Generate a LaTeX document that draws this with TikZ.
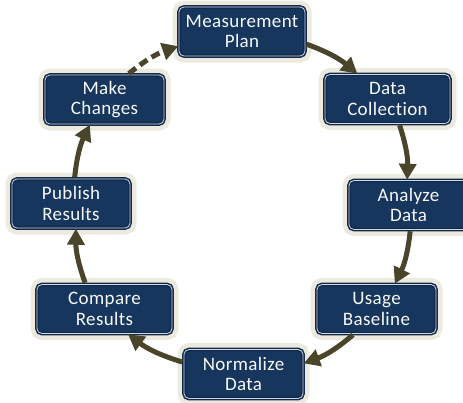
\documentclass[tikz,border=0pt]{standalone}
\usepackage{fontspec}
\setmainfont{Carlito}[Ligatures=NoCommon, LetterSpace=2]
\usetikzlibrary{arrows.meta}
\usepackage{xcolor}
\definecolor{boxnavy}{RGB}{23,54,93}
\definecolor{boxhalo}{RGB}{236,234,222}
\definecolor{boxline}{RGB}{205,212,226}
\definecolor{arrowolive}{RGB}{74,69,42}

\begin{document}
\begin{tikzpicture}[x=1pt,y=-1pt,
    stepbox/.style={rectangle, rounded corners=5pt, fill=boxnavy,
      draw=boxnavy!80!black, line width=1.5pt, double=boxline, double distance=0.8pt,
      preaction={draw=boxhalo, line width=13pt},
      minimum width=119pt, minimum height=49pt, inner sep=0pt,
      align=center, text=white!97!boxnavy, font=\fontsize{19}{20.5}\selectfont},
    flow/.style={draw=arrowolive, line width=5pt,
      -{Triangle[length=16pt,width=17pt]}, shorten <=1pt}]
      \useasboundingbox (0,0) rectangle (463,402);

      % Boxes
      \node[stepbox, minimum width=126pt] (meas) at (242,31.5) {Measurement\\Plan};
      \node[stepbox, minimum width=125pt] (data) at (387.5,99) {Data\\Collection};
      \node[stepbox] (anlz) at (408.5,205) {Analyze\\Data};
      \node[stepbox] (usage) at (376.5,309) {Usage\\Baseline};
      \node[stepbox] (norm) at (243.5,374) {Normalize\\Data};
      \node[stepbox, minimum width=135pt] (comp) at (104.5,309) {Compare\\Results};
      \node[stepbox, minimum width=118pt] (publ) at (71,203.5) {Publish\\Results};
      \node[stepbox] (make) at (104.5,99.5) {Make\\Changes};

      % Arrows
      \foreach \from/\fa/\to/\ta in {meas/-11/data/140, data/-65/anlz/93,
        anlz/-86/usage/54, usage/-132/norm/10, norm/169/comp/-47,
        comp/127/publ/-79, publ/82/make/-120}
      {
        \draw[flow] (\from.\fa) to[bend left=10] (\to.\ta);
      }
      \draw[flow, dash pattern=on 9pt off 5pt] (make.47) to[bend left=10] (meas.-167);
  \end{tikzpicture}
\end{document}
